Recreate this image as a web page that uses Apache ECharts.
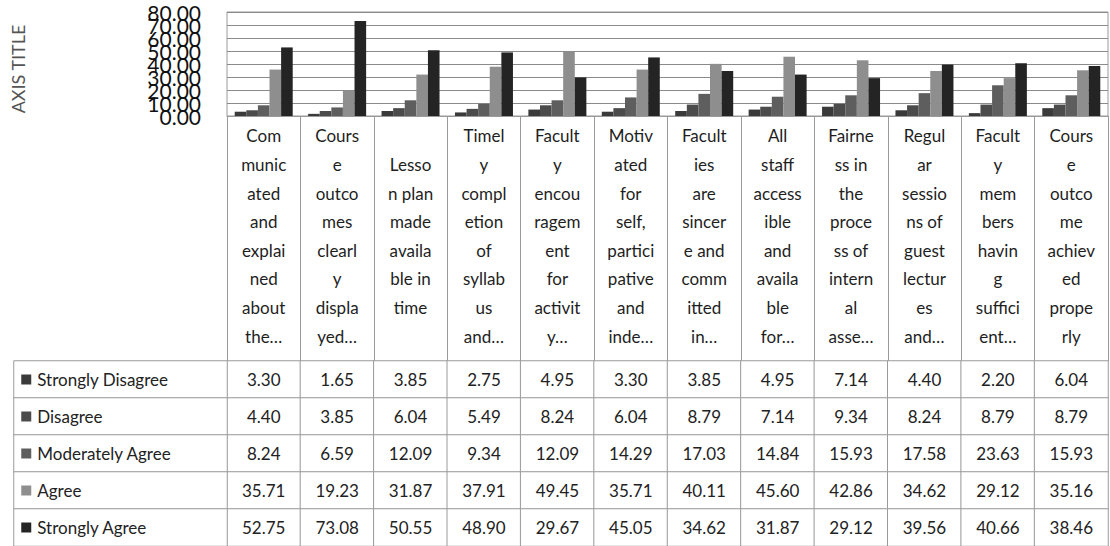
<!DOCTYPE html>
<html>
<head>
<meta charset="utf-8">
<script src="https://cdn.jsdelivr.net/npm/echarts@6/dist/echarts.min.js"></script>
<style>
  html, body { margin: 0; padding: 0; background: #fff; }
  #chart { width: 1110px; height: 546px; }
</style>
</head>
<body>
<div id="chart"></div>
<script>
// wrapped category labels, as they appear in the table header
const categories = [
  'Com\nmunic\nated\nand\nexplai\nned\nabout\nthe…',
  'Cours\ne\noutco\nmes\nclearl\ny\ndispla\nyed…',
  'Lesso\nn plan\nmade\navaila\nble in\ntime',
  'Timel\ny\ncompl\netion\nof\nsyllab\nus\nand…',
  'Facult\ny\nencou\nragem\nent\nfor\nactivit\ny…',
  'Motiv\nated\nfor\nself,\npartici\npative\nand\ninde…',
  'Facult\nies\nare\nsincer\ne and\ncomm\nitted\nin…',
  'All\nstaff\naccess\nible\nand\navaila\nble\nfor…',
  'Fairne\nss in\nthe\nproce\nss of\nintern\nal\nasse…',
  'Regul\nar\nsessio\nns of\nguest\nlectur\nes\nand…',
  'Facult\ny\nmem\nbers\nhavin\ng\nsuffici\nent…',
  'Cours\ne\noutco\nme\nachiev\ned\nprope\nrly'
];

const seriesNames = ['Strongly Disagree', 'Disagree', 'Moderately Agree', 'Agree', 'Strongly Agree'];

const stronglyDisagree = [3.30, 1.65, 3.85, 2.75, 4.95, 3.30, 3.85, 4.95, 7.14, 4.40, 2.20, 6.04];
const disagree = [4.40, 3.85, 6.04, 5.49, 8.24, 6.04, 8.79, 7.14, 9.34, 8.24, 8.79, 8.79];
const moderatelyAgree = [8.24, 6.59, 12.09, 9.34, 12.09, 14.29, 17.03, 14.84, 15.93, 17.58, 23.63, 15.93];
const agree = [35.71, 19.23, 31.87, 37.91, 49.45, 35.71, 40.11, 45.60, 42.86, 34.62, 29.12, 35.16];
const stronglyAgree = [52.75, 73.08, 50.55, 48.90, 29.67, 45.05, 34.62, 31.87, 29.12, 39.56, 40.66, 38.46];

const yTicks = [0, 10, 20, 30, 40, 50, 60, 70, 80];

const seriesValues = [stronglyDisagree, disagree, moderatelyAgree, agree, stronglyAgree];
const colors = ['#3a3a3a', '#4b4b4b', '#5e5e5e', '#8e8e8e', '#242424'];

const FONT = 'Lato, "Noto Sans", sans-serif';
const BORDER = '#9a9a9a';

const chart = echarts.init(document.getElementById('chart'), null, { renderer: 'svg' });

// table cells: [column, row, value]
const cellData = [];
seriesValues.forEach((vals, r) => vals.forEach((v, c) => cellData.push([c, r, v])));

const legendRich = {};
colors.forEach((c, i) => {
  legendRich['m' + i] = { width: 10, height: 10, backgroundColor: c };
});
legendRich.t = { fontSize: 17, color: '#222', fontFamily: FONT, padding: [0, 0, 0, 6] };

// the tick labels sit so close they overlap; split them over two stacked axes
// so echarts does not drop any of them
function yLabelAxis(keepEven, extra) {
  return Object.assign({
    type: 'value',
    gridIndex: 0,
    position: 'left',
    min: yTicks[0],
    max: yTicks[yTicks.length - 1],
    interval: 10,
    axisLine: { show: false },
    axisTick: { show: false },
    axisLabel: {
      fontFamily: FONT,
      fontSize: 21,
      color: '#111',
      margin: 26,
      showMinLabel: true,
      showMaxLabel: true,
      formatter: (v) => ((v % 20 === 0) === keepEven ? v.toFixed(2) : '')
    },
    splitLine: { show: false }
  }, extra);
}

const option = {
  animation: false,
  backgroundColor: '#fff',
  grid: [
    { left: 227, right: 2, top: 12, height: 104, show: true, borderColor: BORDER, borderWidth: 1 },
    { left: 227, right: 2, top: 361, height: 189 },
    { left: 14, width: 213, top: 361, height: 189 }
  ],
  xAxis: [
    {
      type: 'category',
      gridIndex: 0,
      data: categories,
      axisLine: { lineStyle: { color: BORDER } },
      axisTick: { show: true, interval: 0, length: 245, lineStyle: { color: BORDER } },
      axisLabel: {
        interval: 0,
        fontFamily: FONT,
        fontSize: 17,
        lineHeight: 28.6,
        color: '#1e1e1e',
        verticalAlign: 'middle',
        margin: 120
      }
    },
    { type: 'category', gridIndex: 1, data: categories, show: false },
    { type: 'category', gridIndex: 2, data: ['legend'], show: false }
  ],
  yAxis: [
    yLabelAxis(true, {
      name: 'AXIS TITLE',
      nameLocation: 'middle',
      nameGap: 200,
      nameRotate: 90,
      nameTextStyle: { fontFamily: FONT, fontSize: 18, color: '#555', padding: [0, 0, 0, -10] },
      splitLine: { lineStyle: { color: '#8a8a8a' } }
    }),
    { type: 'category', gridIndex: 1, data: seriesNames, inverse: true, show: false },
    { type: 'category', gridIndex: 2, data: seriesNames, inverse: true, show: false },
    yLabelAxis(false, {})
  ],
  series: [
    ...seriesNames.map((name, i) => ({
      name,
      type: 'bar',
      xAxisIndex: 0,
      yAxisIndex: 0,
      data: seriesValues[i],
      barGap: '0%',
      barCategoryGap: '21%',
      itemStyle: { color: colors[i] }
    })),
    {
      type: 'heatmap',
      xAxisIndex: 1,
      yAxisIndex: 1,
      data: cellData,
      itemStyle: { color: '#fff', borderColor: BORDER, borderWidth: 1 },
      label: {
        show: true,
        fontFamily: FONT,
        fontSize: 17,
        color: '#222',
        formatter: (p) => p.value[2].toFixed(2)
      },
      emphasis: { disabled: true }
    },
    {
      type: 'heatmap',
      xAxisIndex: 2,
      yAxisIndex: 2,
      data: seriesNames.map((n, i) => [0, i, i]),
      itemStyle: { color: '#fff', borderColor: BORDER, borderWidth: 1 },
      label: {
        show: true,
        position: 'insideLeft',
        distance: 8,
        rich: legendRich,
        formatter: (p) => '{m' + p.value[2] + '|}{t|' + seriesNames[p.value[1]] + '}'
      },
      emphasis: { disabled: true }
    }
  ]
};

chart.setOption(option);
</script>
</body>
</html>
